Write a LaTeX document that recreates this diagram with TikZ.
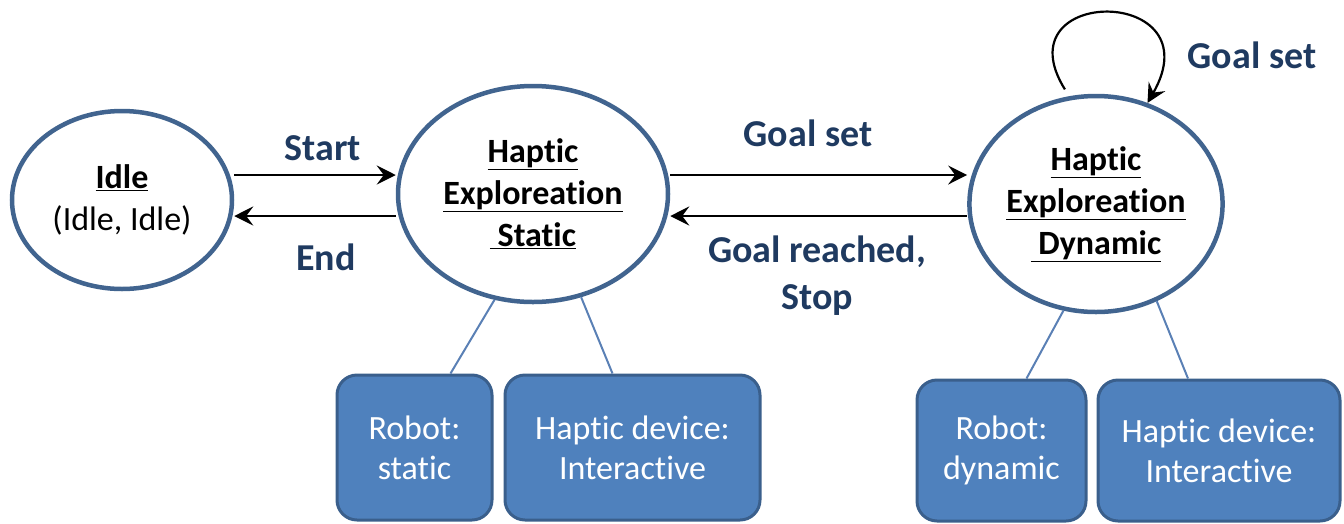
\documentclass[tikz,border=0pt]{standalone}
\usepackage{fontspec}
\setmainfont{Carlito}[Ligatures=NoCommon]
\definecolor{ringblue}{HTML}{41648F}
\definecolor{labelnavy}{HTML}{1F3A60}
\definecolor{boxfill}{HTML}{4F81BD}
\definecolor{boxedge}{HTML}{3A5F8C}
\definecolor{linkblue}{HTML}{5A80B5}
\usetikzlibrary{arrows.meta,shapes.geometric}

\begin{document}
\begin{tikzpicture}[
  x=1pt, y=-1pt,
  state/.style={ellipse, draw=ringblue, line width=4.5pt, fill=white,
    inner sep=0pt, align=center, font=\fontsize{34}{42}\selectfont},
  sbox/.style={rectangle, rounded corners=20pt, draw=boxedge, line width=3pt,
    fill=boxfill, text=white, align=center, inner sep=0pt,
    font=\fontsize{34}{40}\selectfont},
  trans/.style={-{Stealth[length=19pt,width=19pt,inset=7pt]}, line width=2.2pt},
  lbl/.style={text=labelnavy, align=center, font=\bfseries\fontsize{38}{47}\selectfont},
  link/.style={draw=linkblue, line width=2pt}
]
  \useasboundingbox (0,0) rectangle (1344,523);

  % states
  \node[state, minimum width=220pt, minimum height=178pt] (idle) at (122,200)
    {\textbf{\underline{Idle}}\\(Idle, Idle)};
  \node[state, minimum width=270pt, minimum height=216pt, font=\bfseries\fontsize{34}{42}\selectfont] (stat) at (533,194)
    {\underline{Haptic}\\\underline{Exploreation}\\\underline{\ Static}};
  \node[state, minimum width=252pt, minimum height=216pt, font=\bfseries\fontsize{34}{42}\selectfont] (dyn) at (1096,204)
    {\underline{Haptic}\\\underline{Exploreation}\\\underline{\ Dynamic}};

  % device modes
  \node[sbox, minimum width=155pt, minimum height=145pt] (rs) at (414.5,447.5) {Robot:\\static};
  \node[sbox, minimum width=255pt, minimum height=145pt] (hs) at (632.5,447.5) {Haptic device:\\Interactive};
  \node[sbox, minimum width=169pt, minimum height=141pt] (rd) at (1001.5,450.5) {Robot:\\dynamic};
  \node[sbox, minimum width=242pt, minimum height=141pt] (hd) at (1219,450.5) {Haptic device:\\Interactive};

  \coordinate (upper) at (0,175);
  \coordinate (lower) at (0,216);

  % transitions
  \draw[trans] (idle.east |- upper) -- (stat.west |- upper);
  \draw[trans] (stat.west |- lower) -- (idle.east |- lower);
  \draw[trans] (stat.east |- upper) -- (dyn.west |- upper);
  \draw[trans] (dyn.west |- lower) -- (stat.east |- lower);
  \draw[trans, shorten <=8pt] (dyn.104) .. controls (1000,-15) and (1215,-15) .. (dyn.63);

  \node[lbl] (lstart) at (323,148) {Start};
  \node[lbl] (lend) at (326,257) {End};
  \node[lbl] (lset) at (808,133) {Goal set};
  \node[lbl] (lreach) at (817,276) {Goal reached,\\Stop};
  \node[lbl] (lloop) at (1252,55) {Goal set};

  % links to device modes
  \draw[link] (stat.-110) -- ([xshift=36pt]rs.north);
  \draw[link] (stat.-65) -- ([xshift=-20pt]hs.north);
  \draw[link] (dyn.-107) -- ([xshift=25pt]rd.north);
  \draw[link] (dyn.-58) -- ([xshift=-31pt]hd.north);
\end{tikzpicture}
\end{document}
